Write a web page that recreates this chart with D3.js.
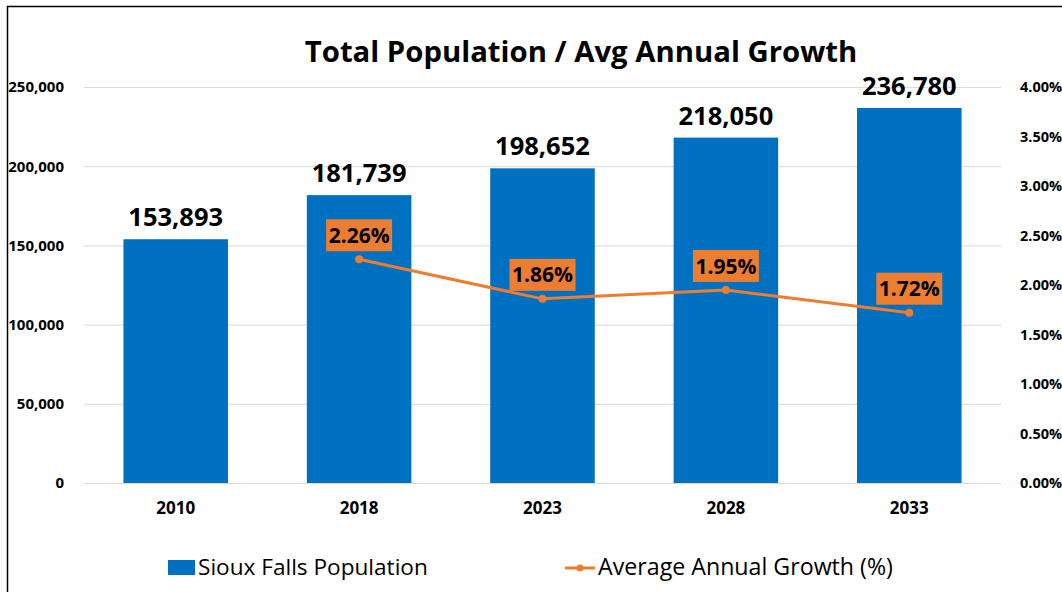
<!DOCTYPE html>
<html>
<head>
<meta charset="utf-8">
<script src="https://cdn.jsdelivr.net/npm/d3@7"></script>
<style>
  html, body { margin: 0; padding: 0; background: #fff; }
  svg { display: block; font-family: "Open Sans", Lato, sans-serif; }
</style>
</head>
<body>
<svg id="chart" width="1062" height="592"></svg>
<script>
// Population by year and the average annual growth between periods
const years = ["2010", "2018", "2023", "2028", "2033"];
const population = [153893, 181739, 198652, 218050, 236780];
const growth = [null, 2.26, 1.86, 1.95, 1.72];
const popTicks = [0, 50000, 100000, 150000, 200000, 250000];
const growthTicks = [0, 0.5, 1, 1.5, 2, 2.5, 3, 3.5, 4];

const svg = d3.select("#chart");
const m = { left: 84, right: 1001, top: 87, bottom: 483 };
const blue = "#0070C0", orange = "#ED7D31";

// chart frame
svg.append("rect").attr("x", 7.5).attr("y", 6.5).attr("width", 1062).attr("height", 600)
  .attr("fill", "none").attr("stroke", "#000").attr("stroke-width", 1.5);

const x = d3.scaleBand().domain(years).range([m.left, m.right]).paddingInner(0.43).paddingOuter(0.215);
const y = d3.scaleLinear().domain([0, 250000]).range([m.bottom, m.top]);
const y2 = d3.scaleLinear().domain([0, 4]).range([m.bottom, m.top]);

// gridlines
svg.append("g").selectAll("line").data(popTicks).join("line")
  .attr("x1", m.left).attr("x2", m.right)
  .attr("y1", d => y(d) + 0.5).attr("y2", d => y(d) + 0.5)
  .attr("stroke", "#d9d9d9").attr("stroke-width", 1);

// left axis
const leftAxis = svg.append("g").attr("transform", `translate(${m.left - 17},0)`)
  .call(d3.axisLeft(y).tickValues(popTicks).tickSize(0).tickFormat(d3.format(",")));
leftAxis.select(".domain").remove();
leftAxis.selectAll("text").attr("font-weight", "bold").attr("fill", "#000")
  .attr("font-family", "Open Sans, sans-serif").style("font-size", "15px");

// right axis
const rightAxis = svg.append("g").attr("transform", `translate(${m.right + 16},0)`)
  .call(d3.axisRight(y2).tickValues(growthTicks).tickSize(0).tickFormat(d => d.toFixed(2) + "%"));
rightAxis.select(".domain").remove();
rightAxis.selectAll("text").attr("fill", "#000").attr("font-weight", "bold")
  .attr("font-family", "Open Sans, sans-serif").style("font-size", "14.5px");

// bottom axis
const bottomAxis = svg.append("g").attr("transform", `translate(0,${m.bottom + 16})`)
  .call(d3.axisBottom(x).tickSize(0));
bottomAxis.select(".domain").remove();
bottomAxis.selectAll("text").attr("fill", "#000").attr("font-weight", "bold")
  .attr("font-family", "Open Sans, sans-serif").style("font-size", "17px");

// bars
svg.append("g").selectAll("rect").data(years).join("rect")
  .attr("x", d => x(d)).attr("width", x.bandwidth())
  .attr("y", (d, i) => y(population[i])).attr("height", (d, i) => y(0) - y(population[i]))
  .attr("fill", blue);

// bar value labels
svg.append("g").selectAll("text").data(years).join("text")
  .attr("x", d => x(d) + x.bandwidth() / 2)
  .attr("y", (d, i) => y(population[i]) - 13)
  .attr("text-anchor", "middle").attr("font-weight", "bold").attr("font-size", 25.5)
  .attr("fill", "#000")
  .text((d, i) => d3.format(",")(population[i]));

// growth line
const pts = years.map((d, i) => ({ year: d, v: growth[i] })).filter(p => p.v !== null);
const cx = p => x(p.year) + x.bandwidth() / 2;
svg.append("path").datum(pts)
  .attr("d", d3.line().x(cx).y(p => y2(p.v)))
  .attr("fill", "none").attr("stroke", orange).attr("stroke-width", 3);
svg.append("g").selectAll("circle").data(pts).join("circle")
  .attr("cx", cx).attr("cy", p => y2(p.v)).attr("r", 4).attr("fill", orange);

// growth labels
const gl = svg.append("g").selectAll("g").data(pts).join("g")
  .attr("transform", p => `translate(${cx(p)},${y2(p.v) - 24})`);
gl.append("rect").attr("x", -33).attr("y", -16).attr("width", 66).attr("height", 32).attr("fill", orange);
gl.append("text").attr("text-anchor", "middle").attr("dy", "0.36em")
  .attr("font-weight", "bold").attr("font-size", 21).attr("fill", "#000")
  .text(p => p.v.toFixed(2) + "%");

// title
svg.append("text").attr("x", 581).attr("y", 62).attr("text-anchor", "middle")
  .attr("font-weight", "bold").attr("font-size", 29.3).attr("fill", "#000")
  .text("Total Population / Avg Annual Growth");

// legend
const lg = svg.append("g");
lg.append("rect").attr("x", 168).attr("y", 560).attr("width", 27).attr("height", 15).attr("fill", blue);
lg.append("text").attr("x", 198).attr("y", 575).attr("font-size", 22.6).attr("fill", "#000")
  .text("Sioux Falls Population");
lg.append("line").attr("x1", 565).attr("x2", 595).attr("y1", 568).attr("y2", 568)
  .attr("stroke", orange).attr("stroke-width", 3);
lg.append("circle").attr("cx", 580).attr("cy", 568).attr("r", 3.5).attr("fill", orange);
lg.append("text").attr("x", 598).attr("y", 575).attr("font-size", 23.2).attr("fill", "#000")
  .text("Average Annual Growth (%)");
</script>
</body>
</html>
